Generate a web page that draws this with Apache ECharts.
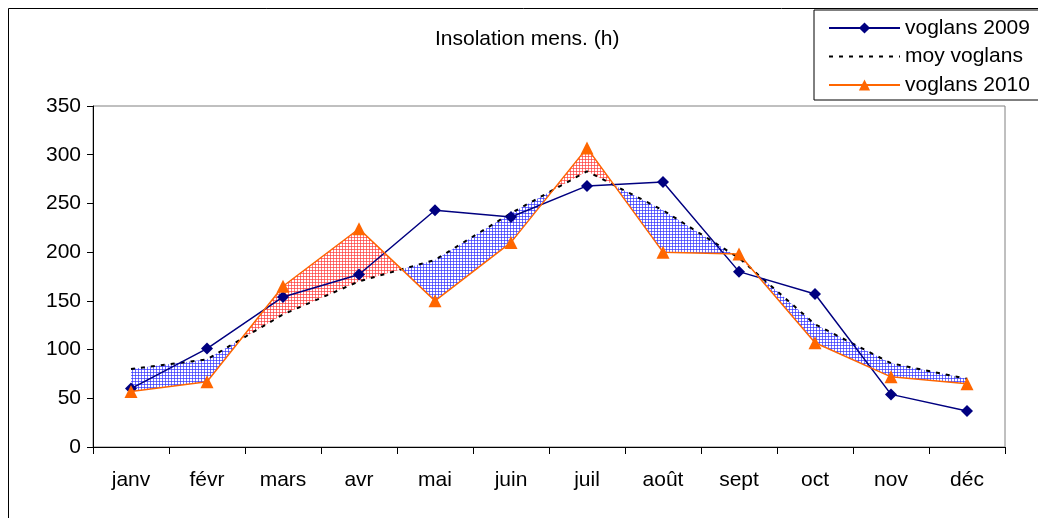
<!DOCTYPE html>
<html>
<head>
<meta charset="utf-8">
<script src="https://cdn.jsdelivr.net/npm/echarts@6/dist/echarts.min.js"></script>
<style>
  html, body { margin: 0; padding: 0; background: #fff; }
  #chart { width: 1038px; height: 518px; }
</style>
</head>
<body>
<div id="chart"></div>
<script>
"use strict";

// mois
const months = ["janv", "févr", "mars", "avr", "mai", "juin", "juil", "août", "sept", "oct", "nov", "déc"];
// heures d'insolation
const v2009 = [60, 101, 154, 177, 243, 236, 268, 272, 180, 157, 54, 37];
const moy = [80, 90, 136, 170, 192, 240, 283, 243, 194, 126, 86, 70];
const v2010 = [57, 67, 165, 224, 150, 210, 307, 200, 198, 107, 72, 65];
const yTicks = [0, 50, 100, 150, 200, 250, 300, 350];

const FONT = "Liberation Sans";

// motif quadrillé pour le remplissage
const makeHatch = (color) => {
  const c = document.createElement("canvas");
  c.width = 3;
  c.height = 3;
  const ctx = c.getContext("2d");
  ctx.fillStyle = color;
  ctx.fillRect(0, 0, 3, 1);
  ctx.fillRect(0, 0, 1, 3);
  return { image: c, repeat: "repeat" };
};
const blueHatch = makeHatch("rgba(50,50,255,0.7)");
const redHatch = makeHatch("rgba(255,60,60,0.7)");

// segments entre moyenne et 2010
const segments = months.slice(0, -1).map((_, i) => [i, moy[i], v2010[i], moy[i + 1], v2010[i + 1]]);

const lerp = (p, q, t) => [p[0] + (q[0] - p[0]) * t, p[1] + (q[1] - p[1]) * t];

const renderBand = (params, api) => {
  const i = api.value(0);
  const m0 = api.value(1), o0 = api.value(2), m1 = api.value(3), o1 = api.value(4);
  const a = api.coord([i, m0]);
  const b = api.coord([i + 1, m1]);
  const c = api.coord([i + 1, o1]);
  const d = api.coord([i, o0]);
  const d0 = m0 - o0;
  const d1 = m1 - o1;
  const poly = (pts, below) => ({
    type: "polygon",
    shape: { points: pts },
    style: { fill: below ? blueHatch : redHatch, stroke: null },
  });
  const children = [];
  if (d0 * d1 >= 0) {
    children.push(poly([a, b, c, d], d0 + d1 > 0));
  } else {
    const t = d0 / (d0 - d1);
    const x = lerp(a, b, t);
    children.push(poly([a, x, d], d0 > 0));
    children.push(poly([x, b, c], d1 > 0));
  }
  return { type: "group", children };
};

const chart = echarts.init(document.getElementById("chart"));
chart.setOption({
  animation: false,
  backgroundColor: "#fff",
  title: {
    text: "Insolation mens. (h)",
    left: 430,
    top: 24,
    textStyle: { fontFamily: FONT, fontSize: 21, fontWeight: "normal", color: "#000" },
  },
  graphic: [
    {
      type: "rect",
      shape: { x: 8.5, y: 8.5, width: 1200, height: 700 },
      style: { fill: null, stroke: "#000", lineWidth: 1 },
      z: 0,
    },
  ],
  legend: {
    data: [
      "voglans 2009",
      { name: "moy voglans", itemStyle: { color: "rgba(0,0,0,0)", borderWidth: 0 } },
      "voglans 2010",
    ],
    orient: "vertical",
    left: 814,
    top: 10,
    padding: [6, 60, 3, 14],
    itemWidth: 71,
    itemHeight: 14,
    itemGap: 4.5,
    backgroundColor: "#fff",
    borderColor: "#000",
    borderWidth: 1,
    textStyle: { fontFamily: FONT, fontSize: 21, color: "#000", lineHeight: 24 },
  },
  grid: {
    left: 93,
    right: 33,
    top: 106,
    bottom: 71,
    show: true,
    borderColor: "#808080",
    borderWidth: 1,
    containLabel: false,
  },
  xAxis: {
    type: "category",
    data: months,
    boundaryGap: true,
    axisLine: { lineStyle: { color: "#000", width: 1 } },
    axisTick: { show: true, interval: 0, length: 7, lineStyle: { color: "#000" } },
    axisLabel: { interval: 0, margin: 23, fontFamily: FONT, fontSize: 21, color: "#000" },
    splitLine: { show: false },
  },
  yAxis: {
    type: "value",
    min: yTicks[0],
    max: yTicks[yTicks.length - 1],
    interval: 50,
    axisLine: { show: true, lineStyle: { color: "#000", width: 1 } },
    axisTick: { show: true, length: 6, lineStyle: { color: "#000" } },
    axisLabel: { margin: 12, fontFamily: FONT, fontSize: 21, color: "#000" },
    splitLine: { show: false },
  },
  series: [
    {
      name: "écart",
      type: "custom",
      renderItem: renderBand,
      data: segments,
      z: 1,
      silent: true,
    },
    {
      name: "voglans 2009",
      type: "line",
      data: v2009,
      symbol: "diamond",
      symbolSize: 12,
      lineStyle: { color: "#000080", width: 1.5 },
      itemStyle: { color: "#000080" },
      z: 3,
    },
    {
      name: "moy voglans",
      type: "line",
      data: moy,
      symbol: "none",
      lineStyle: { color: "#000", width: 2, type: [4, 6] },
      itemStyle: { color: "#000" },
      z: 2,
    },
    {
      name: "voglans 2010",
      type: "line",
      data: v2010,
      symbol: "triangle",
      symbolSize: 13,
      lineStyle: { color: "#FF6600", width: 1.5 },
      itemStyle: { color: "#FF6600" },
      z: 4,
    },
  ],
});
</script>
</body>
</html>
